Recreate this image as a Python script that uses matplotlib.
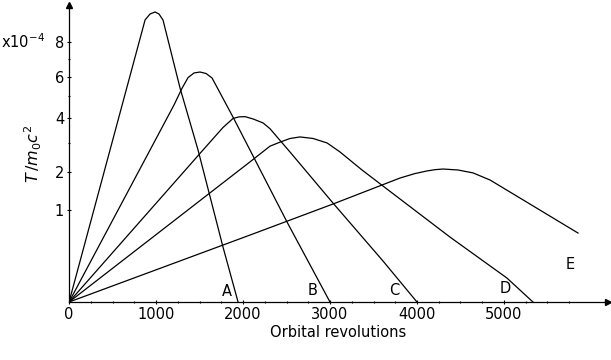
import numpy as np
import matplotlib
matplotlib.use('Agg')
from matplotlib import pyplot as plt
from matplotlib import font_manager

# pick a narrow sans if present
names = set(f.name for f in font_manager.fontManager.ttflist)
if 'Liberation Sans Narrow' in names:
    fam = 'Liberation Sans Narrow'
    fs = 13
else:
    fam = 'DejaVu Sans'
    fs = 10.5
plt.rcParams['font.family'] = [fam, 'DejaVu Sans']
plt.rcParams['mathtext.fontset'] = 'dejavusans'

# curves: orbital revolutions vs T/m0c^2 (x1e-4)
A_n = [0, 874, 931, 989, 1034, 1080, 1276, 1483, 1770, 1943]
A_T = [0, 9.40, 9.80, 9.94, 9.80, 9.40, 5.41, 2.73, 0.357, 0]
B_n = [0, 931, 1207, 1299, 1368, 1437, 1506, 1575, 1644, 1885, 2080, 2506, 3000]
B_T = [0, 2.73, 4.59, 5.40, 5.95, 6.20, 6.25, 6.17, 5.93, 4.04, 2.73, 0.756, 0]
C_n = [0, 1540, 1770, 1885, 1954, 2023, 2115, 2230, 2310, 2391, 2540, 3034, 3609, 4000]
C_T = [0, 2.73, 3.60, 3.98, 4.05, 4.06, 3.96, 3.79, 3.55, 3.22, 2.66, 1.158, 0.199, 0]
D_n = [0, 2080, 2310, 2425, 2540, 2655, 2805, 2966, 3115, 3368, 3609, 4379, 5034, 5333]
D_T = [0, 2.32, 2.87, 3.02, 3.16, 3.22, 3.16, 2.99, 2.66, 2.06, 1.59, 0.499, 0.068, 0]
E_n = [0, 2080, 3034, 3805, 3977, 4115, 4207, 4299, 4471, 4644, 4839, 5069, 5851]
E_T = [0, 0.530, 1.135, 1.817, 1.95, 2.03, 2.07, 2.09, 2.06, 1.97, 1.76, 1.43, 0.5625]

curves = [A_n, A_T], [B_n, B_T], [C_n, C_T], [D_n, D_T], [E_n, E_T]
curve_names = ['A', 'B', 'C', 'D', 'E']
label_x = [1816, 2805, 3736, 5011, 5759]
label_y = [0.037, 0.040, 0.040, 0.044, 0.125]

x_ticks = [0, 1000, 2000, 3000, 4000, 5000]
y_ticks = [1, 2, 4, 6, 8]
y_minor = [3, 5, 7]

fig = plt.figure(figsize=(6.11, 3.6), dpi=100)
ax = fig.add_axes([0.113, 0.161, 0.882, 0.825])
ax.set_yscale('function', functions=(lambda y: np.sqrt(np.clip(y, 0, None)), lambda y: y**2))

for n, T in curves:
    ax.plot(n, T, color='black', lw=0.9, solid_joinstyle='round')
for name, lx, ly in zip(curve_names, label_x, label_y):
    ax.text(lx, ly, name, transform=ax.get_xaxis_transform(), ha='center', va='center', fontsize=fs)

ax.set_xlim(0, 6195)
ax.set_ylim(0, 10.42)
ax.spines['top'].set_visible(False)
ax.spines['right'].set_visible(False)
ax.spines['left'].set_linewidth(0.9)
ax.spines['bottom'].set_linewidth(0.9)
ax.plot(1, 0, '>k', ms=4, transform=ax.transAxes, clip_on=False)
ax.plot(0, 1, '^k', ms=4, transform=ax.transAxes, clip_on=False)

ax.set_xticks(x_ticks)
ax.set_xticklabels([str(v) for v in x_ticks])
ax.set_xticks(np.arange(250, 6000, 250), minor=True)
ax.set_yticks(y_ticks)
ax.set_yticklabels([str(v) for v in y_ticks])
ax.set_yticks(y_minor, minor=True)
ax.tick_params(which='both', direction='inout', length=3, width=0.8, labelsize=fs, pad=2)
ax.tick_params(which='minor', length=2)

ax.set_xlabel('Orbital revolutions', fontsize=fs, labelpad=2)
ax.set_ylabel(r'$T\,/m_0c^2$', fontsize=fs + 1, labelpad=8)
ax.text(-0.045, 8, r'x10$^{-4}$', transform=ax.get_yaxis_transform(), ha='right', va='center', fontsize=fs)

fig.savefig('out.png', dpi=100)
